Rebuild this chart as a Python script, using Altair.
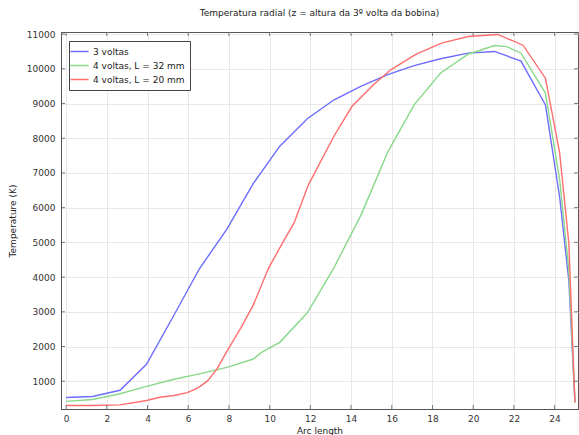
import altair as alt
import pandas as pd

series_names = ["3 voltas", "4 voltas, L = 32 mm", "4 voltas, L = 20 mm"]
series_colors = ["#6c6cff", "#8ad88a", "#ff6e6e"]

x_blue = [0, 1.3, 2.65, 3.95, 5.25, 6.55, 7.9, 9.2, 10.5, 11.85, 13.15, 14.5, 15.8, 17.1, 18.4, 19.75, 21.05, 22.35, 23.55, 24.25, 24.7, 25.0]
y_blue = [530, 560, 740, 1490, 2850, 4240, 5380, 6700, 7770, 8560, 9100, 9500, 9830, 10090, 10290, 10450, 10500, 10220, 8960, 6300, 3900, 400]

x_green = [0, 1.3, 2.65, 3.95, 5.25, 6.55, 7.9, 9.2, 9.6, 10.5, 11.85, 13.15, 14.5, 15.8, 17.1, 18.4, 19.75, 21.05, 21.65, 22.35, 23.55, 24.25, 24.7, 25.0]
y_green = [420, 475, 640, 850, 1050, 1210, 1400, 1640, 1830, 2120, 2970, 4260, 5800, 7600, 8960, 9880, 10420, 10670, 10640, 10450, 9300, 6800, 4200, 400]

x_red = [0, 1.3, 2.65, 3.95, 4.6, 5.3, 5.95, 6.3, 6.6, 6.95, 7.4, 7.9, 8.6, 9.2, 9.95, 10.6, 11.2, 11.9, 13.15, 14.05, 15.1, 15.95, 17.2, 18.45, 19.75, 21.2, 22.45, 23.55, 24.25, 24.7, 25.0]
y_red = [300, 300, 320, 445, 540, 590, 670, 760, 860, 1010, 1340, 1860, 2550, 3200, 4260, 4950, 5560, 6650, 8050, 8920, 9540, 9970, 10420, 10740, 10930, 10990, 10680, 9730, 7570, 4980, 380]

x_ticks = list(range(0, 25, 2))
y_ticks = list(range(1000, 11001, 1000))

title_text = "Temperatura radial (z = altura da 3º volta da bobina)"
x_title = "Arc length"
y_title = "Temperature (K)"

rows = []
for name, xs, ys in zip(series_names, [x_blue, x_green, x_red], [y_blue, y_green, y_red]):
    for i, (xv, yv) in enumerate(zip(xs, ys)):
        rows.append({"series": name, "x": xv, "y": yv, "order": i})
df = pd.DataFrame(rows)

W, H = 517, 377
xscale = alt.Scale(domain=[-0.25, 25.15], nice=False, zero=False)
yscale = alt.Scale(domain=[200, 11060], nice=False, zero=False)

xaxis = alt.Axis(title=x_title, values=x_ticks, grid=True, tickSize=0, format="d",
                 labelPadding=5, titlePadding=3, labelOverlap=False, labelFlush=False)
yaxis = alt.Axis(title=y_title, values=y_ticks, grid=True, tickSize=0, format="d",
                 labelPadding=6, titlePadding=9, labelOverlap=False, labelFlush=False)

lines = alt.Chart(df).mark_line(strokeWidth=1.4, clip=True).encode(
    x=alt.X("x:Q", scale=xscale, axis=xaxis),
    y=alt.Y("y:Q", scale=yscale, axis=yaxis),
    color=alt.Color("series:N", sort=series_names,
                    scale=alt.Scale(domain=series_names, range=series_colors),
                    legend=alt.Legend(title=None, orient="none", legendX=8, legendY=9,
                                      symbolType="M-2,0L2,0", symbolSize=81,
                                      symbolStrokeWidth=1.5, symbolFillColor="transparent",
                                      labelFontSize=9, labelColor="#222",
                                      rowPadding=3, padding=5, labelOffset=8,
                                      strokeColor="#444", fillColor="white",
                                      cornerRadius=0)),
    order="order:Q",
)

xt = pd.DataFrame({"x": x_ticks})
yt = pd.DataFrame({"y": y_ticks})
tick_color = "#444"
top_ticks = alt.Chart(xt).mark_tick(orient="vertical", size=8, thickness=1, color=tick_color, clip=True).encode(
    x=alt.X("x:Q", scale=xscale, axis=xaxis), y=alt.value(0))
bottom_ticks = alt.Chart(xt).mark_tick(orient="vertical", size=8, thickness=1, color=tick_color, clip=True).encode(
    x=alt.X("x:Q", scale=xscale, axis=xaxis), y=alt.value(H))
left_ticks = alt.Chart(yt).mark_tick(orient="horizontal", size=8, thickness=1, color=tick_color, clip=True).encode(
    y=alt.Y("y:Q", scale=yscale, axis=yaxis), x=alt.value(0))
right_ticks = alt.Chart(yt).mark_tick(orient="horizontal", size=8, thickness=1, color=tick_color, clip=True).encode(
    y=alt.Y("y:Q", scale=yscale, axis=yaxis), x=alt.value(W))

chart = alt.layer(lines, top_ticks, bottom_ticks, left_ticks, right_ticks).properties(
    width=W, height=H,
    title=alt.TitleParams(title_text, fontSize=9, font="DejaVu Sans", fontWeight="normal",
                          color="#222", offset=12, anchor="middle"),
    autosize=alt.AutoSizeParams(type="none"),
    padding={"left": 61, "top": 32, "right": 1, "bottom": 26},
).configure(
    font="DejaVu Sans",
    background="white",
).configure_view(
    stroke="#555", strokeWidth=1,
).configure_axis(
    labelFont="DejaVu Sans", labelFontSize=9, labelColor="#333",
    titleFont="DejaVu Sans", titleFontSize=9, titleColor="#222", titleFontWeight="normal",
    gridColor="#e8e8e8", gridWidth=1, domainColor="#555", domainWidth=1,
    labelOverlap=False,
).configure_legend(
    labelFont="DejaVu Sans",
)

chart.save("out.html", embed_options={"renderer": "svg", "actions": False})
